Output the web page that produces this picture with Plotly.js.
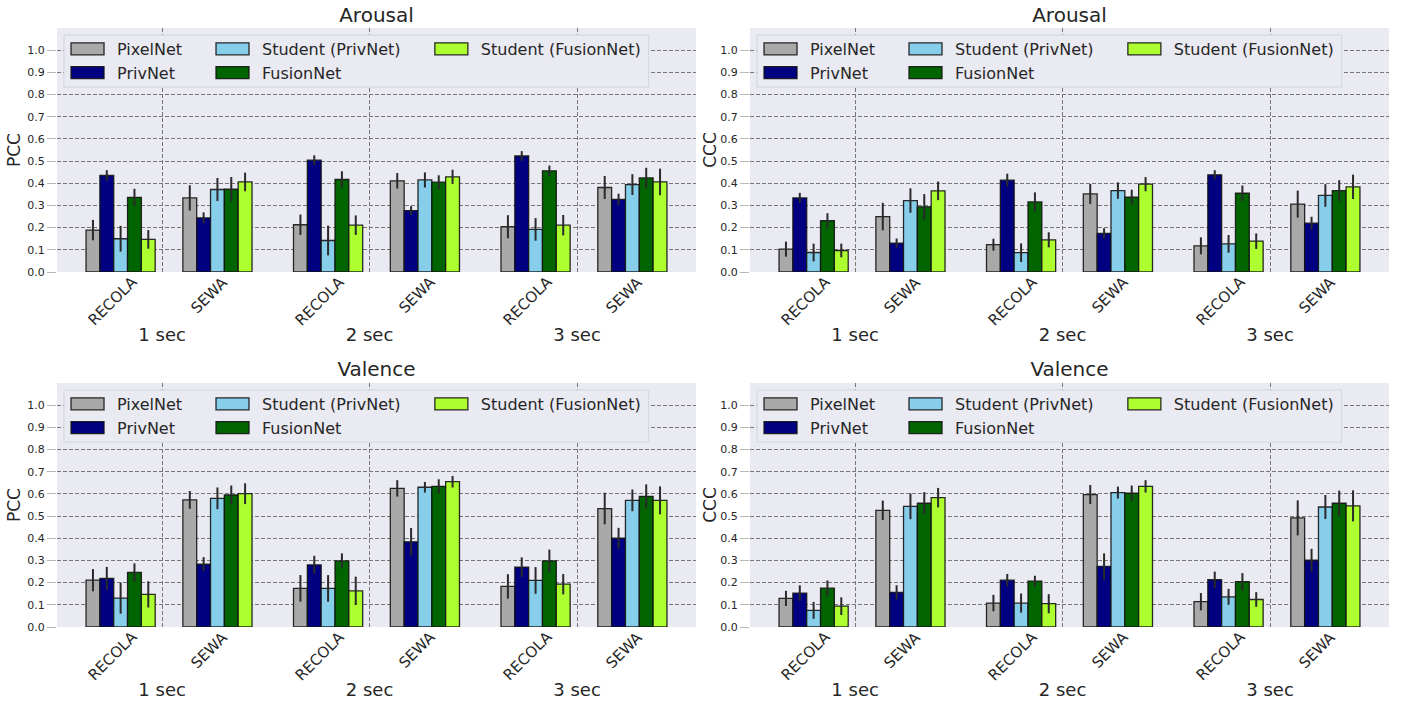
<!DOCTYPE html>
<html>
<head>
<meta charset="utf-8">
<script src="https://cdn.plot.ly/plotly-3.0.1.min.js"></script>
<style>
  html, body { margin: 0; padding: 0; background: #ffffff; }
  #wrap { position: relative; width: 1401px; height: 702px; }
  .fig { position: absolute; }
</style>
</head>
<body>
<div id="wrap">
  <div id="tl" class="fig" style="left:0px;top:0px;width:700px;height:351px;"></div>
  <div id="tr" class="fig" style="left:700px;top:0px;width:701px;height:351px;"></div>
  <div id="bl" class="fig" style="left:0px;top:351px;width:700px;height:351px;"></div>
  <div id="br" class="fig" style="left:700px;top:351px;width:701px;height:351px;"></div>
</div>
<script>
// ---------------- categories ----------------
const windows = ['1 sec', '2 sec', '3 sec'];
const datasets = ['RECOLA', 'SEWA'];
const seriesNames = ['PixelNet', 'PrivNet', 'Student (PrivNet)', 'FusionNet', 'Student (FusionNet)'];
const seriesColors = ['#A9A9A9', '#000080', '#87CEEB', '#006400', '#ADFF2F'];
const yTickVals = [0.0, 0.1, 0.2, 0.3, 0.4, 0.5, 0.6, 0.7, 0.8, 0.9, 1.0];
const yTickText = ['0.0', '0.1', '0.2', '0.3', '0.4', '0.5', '0.6', '0.7', '0.8', '0.9', '1.0'];
// value order: 1s RECOLA, 1s SEWA, 2s RECOLA, 2s SEWA, 3s RECOLA, 3s SEWA

// ---------------- Arousal, PCC ----------------
const pccArousalPixel   = [0.189, 0.334, 0.213, 0.411, 0.204, 0.381];
const pccArousalPriv    = [0.435, 0.244, 0.504, 0.277, 0.523, 0.327];
const pccArousalStuPriv = [0.150, 0.372, 0.142, 0.415, 0.192, 0.394];
const pccArousalFusion  = [0.336, 0.373, 0.417, 0.405, 0.456, 0.424];
const pccArousalStuFus  = [0.147, 0.406, 0.211, 0.429, 0.211, 0.406];
const pccArousalPixelErr   = [0.046, 0.057, 0.046, 0.035, 0.052, 0.052];
const pccArousalPrivErr    = [0.024, 0.025, 0.022, 0.020, 0.022, 0.026];
const pccArousalStuPrivErr = [0.058, 0.052, 0.067, 0.034, 0.051, 0.047];
const pccArousalFusionErr  = [0.039, 0.055, 0.037, 0.031, 0.024, 0.046];
const pccArousalStuFusErr  = [0.042, 0.042, 0.044, 0.032, 0.046, 0.060];

// ---------------- Arousal, CCC ----------------
const cccArousalPixel   = [0.103, 0.250, 0.123, 0.352, 0.118, 0.306];
const cccArousalPriv    = [0.334, 0.130, 0.414, 0.174, 0.438, 0.220];
const cccArousalStuPriv = [0.088, 0.322, 0.087, 0.367, 0.127, 0.345];
const cccArousalFusion  = [0.231, 0.294, 0.316, 0.337, 0.355, 0.367];
const cccArousalStuFus  = [0.097, 0.366, 0.145, 0.396, 0.139, 0.384];
const cccArousalPixelErr   = [0.034, 0.062, 0.027, 0.045, 0.038, 0.061];
const cccArousalPrivErr    = [0.023, 0.021, 0.029, 0.023, 0.021, 0.029];
const cccArousalStuPrivErr = [0.040, 0.055, 0.042, 0.037, 0.040, 0.051];
const cccArousalFusionErr  = [0.034, 0.057, 0.043, 0.034, 0.035, 0.047];
const cccArousalStuFusErr  = [0.031, 0.042, 0.034, 0.032, 0.035, 0.055];

// ---------------- Valence, PCC ----------------
const pccValencePixel   = [0.211, 0.573, 0.174, 0.625, 0.183, 0.534];
const pccValencePriv    = [0.219, 0.283, 0.280, 0.384, 0.270, 0.400];
const pccValenceStuPriv = [0.130, 0.580, 0.174, 0.630, 0.210, 0.571];
const pccValenceFusion  = [0.246, 0.595, 0.298, 0.634, 0.298, 0.589];
const pccValenceStuFus  = [0.147, 0.601, 0.163, 0.655, 0.193, 0.571];
const pccValencePixelErr   = [0.050, 0.040, 0.060, 0.037, 0.055, 0.071];
const pccValencePrivErr    = [0.052, 0.032, 0.041, 0.062, 0.044, 0.047];
const pccValenceStuPrivErr = [0.070, 0.049, 0.060, 0.024, 0.060, 0.049];
const pccValenceFusionErr  = [0.041, 0.043, 0.034, 0.032, 0.051, 0.054];
const pccValenceStuFusErr  = [0.059, 0.047, 0.064, 0.026, 0.046, 0.063];

// ---------------- Valence, CCC ----------------
const cccValencePixel   = [0.129, 0.526, 0.108, 0.597, 0.114, 0.492];
const cccValencePriv    = [0.153, 0.156, 0.211, 0.273, 0.213, 0.301];
const cccValenceStuPriv = [0.075, 0.544, 0.108, 0.606, 0.136, 0.541];
const cccValenceFusion  = [0.175, 0.558, 0.207, 0.603, 0.204, 0.558];
const cccValenceStuFus  = [0.094, 0.583, 0.105, 0.634, 0.124, 0.546];
const cccValencePixelErr   = [0.034, 0.044, 0.037, 0.043, 0.039, 0.079];
const cccValencePrivErr    = [0.035, 0.032, 0.028, 0.059, 0.037, 0.051];
const cccValenceStuPrivErr = [0.038, 0.058, 0.043, 0.027, 0.036, 0.054];
const cccValenceFusionErr  = [0.035, 0.050, 0.024, 0.035, 0.039, 0.057];
const cccValenceStuFusErr  = [0.040, 0.044, 0.043, 0.028, 0.033, 0.070];

// ---------------- layout helpers ----------------
const GROUP_STEP = 3.0, DATASET_STEP = 1.4, BAR_W = 0.2, MAJOR_OFF = 0.6;
const centers = [];
const labelText = [];
windows.forEach((w, g) => datasets.forEach((d, k) => {
  centers.push(g * GROUP_STEP + k * DATASET_STEP);
  labelText.push(d);
}));
const majorPos = windows.map((w, g) => g * GROUP_STEP + MAJOR_OFF);
const legendOf = ['legend', 'legend', 'legend2', 'legend2', 'legend3'];

const TXT = '#262626';
const FONT = 'DejaVu Sans, sans-serif';

function widenLegendSwatches(divId) {
  document.querySelectorAll('#' + divId + ' .legendpoints path').forEach(p => {
    p.setAttribute('d', 'M16.5,6H-16.5V-6H16.5Z');
  });
}

function makeFigure(divId, title, yTitle, values, errors, geom) {
  const traces = values.map((vals, s) => ({
    type: 'bar',
    name: seriesNames[s],
    x: centers,
    y: vals,
    offset: -0.5 + s * BAR_W,
    width: BAR_W,
    marker: { color: seriesColors[s], line: { color: 'rgba(20,20,20,0.9)', width: 1.3 } },
    error_y: { type: 'data', array: errors[s], visible: true, color: '#2a2a2a', thickness: 2, width: 0 },
    legend: legendOf[s],
    hoverinfo: 'skip'
  }));

  const annotations = centers.map((c, i) => ({
    x: c, xref: 'x', y: 0, yref: 'paper',
    text: labelText[i], showarrow: false,
    textangle: -45, xanchor: 'center', yanchor: 'top',
    xshift: -8, yshift: 2,
    font: { family: FONT, size: 15, color: TXT }
  }));

  const legendCommon = {
    orientation: 'v', y: 0.984, yanchor: 'top', xanchor: 'left',
    bgcolor: 'rgba(0,0,0,0)', borderwidth: 0, itemwidth: 49,
    tracegroupgap: 0, traceorder: 'normal',
    font: { family: FONT, size: 16, color: TXT }
  };

  const layout = {
    width: geom.w, height: geom.h,
    margin: { l: geom.l, r: geom.r, t: geom.t, b: geom.b, pad: 0 },
    paper_bgcolor: '#ffffff', plot_bgcolor: '#EAEAF2',
    font: { family: FONT, color: TXT },
    barmode: 'overlay',
    showlegend: true,
    title: {
      text: title, x: 0.5, xref: 'paper', xanchor: 'center',
      y: geom.titleY, yref: 'container', yanchor: 'middle',
      font: { family: FONT, size: 20, color: TXT }
    },
    xaxis: {
      range: [-0.92, 8.32], tickmode: 'array', tickvals: majorPos, ticktext: windows,
      showgrid: true, gridcolor: '#777777', gridwidth: 1, griddash: '4px,2px',
      zeroline: false, showline: false, ticks: '', ticklabelstandoff: 50,
      tickfont: { family: FONT, size: 18, color: TXT }, fixedrange: true
    },
    yaxis: {
      range: [0, 1.1], tickmode: 'array', tickvals: yTickVals, ticktext: yTickText,
      showgrid: true, gridcolor: '#777777', gridwidth: 1, griddash: '4px,2px',
      zeroline: false, showline: false, ticks: 'outside', ticklen: 9, tickcolor: '#b8b8b8', tickwidth: 1,
      tickfont: { family: FONT, size: 11, color: TXT },
      title: { text: yTitle, font: { family: FONT, size: 17, color: TXT }, standoff: 2 },
      fixedrange: true
    },
    legend: Object.assign({}, legendCommon, { x: 0.0016 }),
    legend2: Object.assign({}, legendCommon, { x: 0.2285 }),
    legend3: Object.assign({}, legendCommon, { x: 0.571 }),
    shapes: [{
      type: 'rect', xref: 'paper', yref: 'paper',
      x0: 0.011, x1: 0.926, y0: 0.758, y1: 0.971,
      fillcolor: '#EAEAF2', line: { color: '#d4d4dc', width: 1 }, layer: 'above'
    }],
    annotations: annotations
  };
  return Plotly.newPlot(divId, traces, layout, { displayModeBar: false, staticPlot: true })
    .then(() => widenLegendSwatches(divId));
}

makeFigure('tl', 'Arousal', 'PCC',
  [pccArousalPixel, pccArousalPriv, pccArousalStuPriv, pccArousalFusion, pccArousalStuFus],
  [pccArousalPixelErr, pccArousalPrivErr, pccArousalStuPrivErr, pccArousalFusionErr, pccArousalStuFusErr],
  { w: 700, h: 351, l: 57, r: 4, t: 28, b: 79, titleY: 0.958 });
makeFigure('tr', 'Arousal', 'CCC',
  [cccArousalPixel, cccArousalPriv, cccArousalStuPriv, cccArousalFusion, cccArousalStuFus],
  [cccArousalPixelErr, cccArousalPrivErr, cccArousalStuPrivErr, cccArousalFusionErr, cccArousalStuFusErr],
  { w: 701, h: 351, l: 50, r: 12, t: 28, b: 79, titleY: 0.958 });
makeFigure('bl', 'Valence', 'PCC',
  [pccValencePixel, pccValencePriv, pccValenceStuPriv, pccValenceFusion, pccValenceStuFus],
  [pccValencePixelErr, pccValencePrivErr, pccValenceStuPrivErr, pccValenceFusionErr, pccValenceStuFusErr],
  { w: 700, h: 351, l: 57, r: 4, t: 32, b: 75, titleY: 0.948 });
makeFigure('br', 'Valence', 'CCC',
  [cccValencePixel, cccValencePriv, cccValenceStuPriv, cccValenceFusion, cccValenceStuFus],
  [cccValencePixelErr, cccValencePrivErr, cccValenceStuPrivErr, cccValenceFusionErr, cccValenceStuFusErr],
  { w: 701, h: 351, l: 50, r: 12, t: 32, b: 75, titleY: 0.948 });
</script>
</body>
</html>
